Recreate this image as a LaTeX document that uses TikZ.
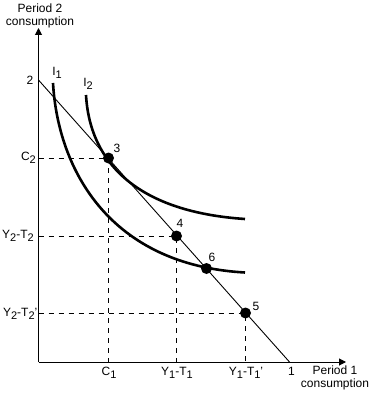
\documentclass[tikz,border=0pt]{standalone}
\usepackage{fontspec}
\setmainfont{Liberation Sans}
\usetikzlibrary{arrows.meta}
\newcommand\lsub[1]{\raisebox{-0.45ex}{\fontsize{11}{11}\selectfont #1}}
\begin{document}
\begin{tikzpicture}[x=1pt,y=-1pt,
  lbl/.style={inner sep=0pt,font=\fontsize{12}{13}\selectfont},
  axisline/.style={line width=1pt,-{Triangle[length=7pt,width=7pt]}},
  budget/.style={line width=0.9pt},
  indiff/.style={line width=2.6pt},
  guide/.style={line width=0.9pt,dash pattern=on 5pt off 5pt},
  dotpt/.style={circle,fill=black,inner sep=0pt,minimum size=11pt}]
\useasboundingbox (0,0) rectangle (368,393);
% axes
\coordinate (O) at (38.5,362);
\coordinate (ytop) at (38.5,28);
\coordinate (xend) at (346,362);
\draw[axisline] (O) -- (ytop);
\draw[axisline] (O) -- (xend);
% budget line
\coordinate (B2) at (38.5,80);
\coordinate (B1) at (289.5,362);
\draw[budget] (B2) -- (B1);
% indifference curves
\coordinate (i1s) at (53,83);
\coordinate (i1e) at (245,272.5);
\coordinate (i2s) at (86,95);
\coordinate (i2e) at (245,219);
\draw[indiff] (i1s) .. controls (58,170) and (110,265) .. (i1e);
\draw[indiff] (i2s) .. controls (90,165) and (140,212) .. (i2e);
% point positions
\coordinate (q3) at (108.5,158);
\coordinate (q4) at (176.5,236);
\coordinate (q6) at (206.5,268.5);
\coordinate (q5) at (245.5,313);
% guides
\coordinate (c2) at (38.5,158);
\coordinate (c1) at (108.5,362);
\coordinate (yt2) at (38.5,236);
\coordinate (yt1) at (176.5,362);
\coordinate (yt2p) at (38.5,313);
\coordinate (yt1p) at (245.5,362);
\draw[guide] (c2) -- (q3) -- (c1);
\draw[guide] (yt2) -- (q4) -- (yt1);
\draw[guide] (yt2p) -- (q5) -- (yt1p);
% points
\node[dotpt] (p3) at (q3) {};
\node[dotpt] (p4) at (q4) {};
\node[dotpt] (p6) at (q6) {};
\node[dotpt] (p5) at (q5) {};
% labels
\node[lbl,align=center] (ylab) at (40,16) {Period 2\\consumption};
\node[lbl,align=center] (xlab) at (335,378) {Period 1\\consumption};
\node[lbl] (l2) at (30,80) {2};
\node[lbl] (l1) at (291.5,371) {1};
\node[lbl] (lI1) at (57,73) {I\lsub{1}};
\node[lbl] (lI2) at (88,84) {I\lsub{2}};
\node[lbl,anchor=east] (lc2) at (36,158) {C\lsub{2}};
\node[lbl,anchor=east] (lyt2) at (34,236) {Y\lsub{2}-T\lsub{2}};
\node[lbl,anchor=east] (lyt2p) at (37.5,314) {Y\lsub{2}-T\lsub{2}'};
\node[lbl] (lc1) at (109,373) {C\lsub{1}};
\node[lbl] (lyt1) at (177,373) {Y\lsub{1}-T\lsub{1}};
\node[lbl] (lyt1p) at (246,373) {Y\lsub{1}-T\lsub{1}'};
\node[lbl] (n3) at (117,148) {3};
\node[lbl] (n4) at (180,223) {4};
\node[lbl] (n6) at (212,257) {6};
\node[lbl] (n5) at (256,306) {5};
\end{tikzpicture}
\end{document}
